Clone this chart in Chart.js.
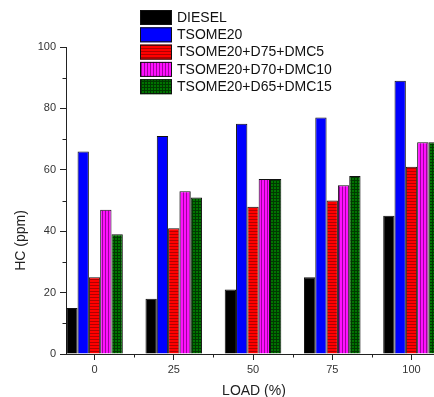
<!DOCTYPE html>
<html>
<head>
<meta charset="utf-8">
<script src="https://cdn.jsdelivr.net/npm/chart.js@4/dist/chart.umd.min.js"></script>
<style>
  html, body { margin: 0; padding: 0; background: #fff; overflow: hidden; }
  #wrap { width: 434px; height: 397px; position: relative; }
  canvas { display: block; }
</style>
</head>
<body>
<div id="wrap"><canvas id="c" width="434" height="397"></canvas></div>
<script>
// Engine load points and hydrocarbon emissions per fuel blend
const loads = [0, 25, 50, 75, 100];
const seriesNames = ['DIESEL', 'TSOME20', 'TSOME20+D75+DMC5', 'TSOME20+D70+DMC10', 'TSOME20+D65+DMC15'];
const diesel   = [15, 18, 21, 25, 45];
const tsome20  = [66, 71, 75, 77, 89];
const d75dmc5  = [25, 41, 48, 50, 61];
const d70dmc10 = [47, 53, 57, 55, 69];
const d65dmc15 = [39, 51, 57, 58, 69];
const yTicks = [0, 20, 40, 60, 80, 100];
const yMinorTicks = [10, 30, 50, 70, 90];
const xMinorTicks = [12.5, 37.5, 62.5, 87.5];
const xTitle = 'LOAD (%)';
const yTitle = 'HC (ppm)';

const FONT = 'Arial, "Liberation Sans", sans-serif';
const canvas = document.getElementById('c');
const ctx = canvas.getContext('2d');

// Small repeating tiles that give the hatched bar fills
function tile(w, h, base, ink, paint) {
  const t = document.createElement('canvas');
  t.width = w; t.height = h;
  const g = t.getContext('2d');
  g.fillStyle = base; g.fillRect(0, 0, w, h);
  g.fillStyle = ink; paint(g);
  return ctx.createPattern(t, 'repeat');
}
const redFill = tile(3, 3, '#ff0000', '#b00000', g => g.fillRect(0, 0, 3, 1));
const magentaFill = tile(3, 3, '#ff10ff', '#a000a0', g => g.fillRect(0, 0, 1, 3));
const greenFill = tile(3, 3, '#007400', '#003a00', g => { g.fillRect(0, 0, 3, 1); g.fillRect(0, 0, 1, 3); });

const seriesValues = [diesel, tsome20, d75dmc5, d70dmc10, d65dmc15];
const fills = ['#000000', '#0000ff', redFill, magentaFill, greenFill];

const datasets = seriesNames.map((name, i) => ({
  label: name,
  data: loads.map((x, j) => ({ x: x, y: seriesValues[i][j] })),
  backgroundColor: fills[i],
  borderColor: '#111',
  borderWidth: 1,
  categoryPercentage: 0.714,
  barPercentage: 1
}));

// Legend, axis titles and minor tick marks
const decorations = {
  id: 'decorations',
  afterDraw(chart) {
    const c = chart.ctx;
    const xs = chart.scales.x, ys = chart.scales.y;
    c.save();
    c.strokeStyle = '#222';
    c.lineWidth = 1;
    c.beginPath();
    yMinorTicks.forEach(v => {
      const py = Math.round(ys.getPixelForValue(v)) + 0.5;
      c.moveTo(xs.left - 3.5, py); c.lineTo(xs.left, py);
    });
    xMinorTicks.forEach(v => {
      const px = Math.round(xs.getPixelForValue(v)) + 0.5;
      c.moveTo(px, ys.bottom); c.lineTo(px, ys.bottom + 3.5);
    });
    c.stroke();

    // legend block
    const lx = 140, ly = 10, sw = 32, sh = 15, step = 17.3;
    c.font = '14px ' + FONT;
    c.textBaseline = 'middle';
    c.textAlign = 'left';
    chart.data.datasets.forEach((ds, i) => {
      const y = ly + i * step;
      c.fillStyle = ds.backgroundColor;
      c.fillRect(lx, y, sw, sh);
      c.strokeStyle = '#111';
      c.strokeRect(lx + 0.5, y + 0.5, sw - 1, sh - 1);
      c.fillStyle = '#111';
      c.fillText(ds.label, lx + sw + 5, y + sh / 2 + 0.5);
    });

    // axis titles
    c.fillStyle = '#222';
    c.font = '14px ' + FONT;
    c.textAlign = 'center';
    c.textBaseline = 'alphabetic';
    c.fillText(xTitle, (xs.left + xs.right) / 2 + 4, 395);
    c.translate(25, ys.top + (ys.bottom - ys.top) * 0.63);
    c.rotate(-Math.PI / 2);
    c.fillText(yTitle, 0, 0);
    c.restore();
  }
};

new Chart(ctx, {
  type: 'bar',
  data: { datasets: datasets },
  options: {
    responsive: false,
    animation: false,
    devicePixelRatio: 1,
    layout: { padding: { top: 47, left: 0, right: 0, bottom: 0 } },
    plugins: { legend: { display: false }, tooltip: { enabled: false } },
    scales: {
      x: {
        type: 'linear',
        offset: false,
        min: -9,
        max: 107.1,
        afterBuildTicks: s => { s.ticks = loads.map(v => ({ value: v })); },
        afterFit: s => { s.height = 43; },
        grid: { display: true, offset: false, drawOnChartArea: false, drawTicks: true, tickLength: 6, color: '#222' },
        border: { display: true, color: '#222', width: 1 },
        ticks: { font: { family: FONT, size: 11 }, color: '#333', padding: 3, maxRotation: 0, autoSkip: false }
      },
      y: {
        type: 'linear',
        min: 0,
        max: 100,
        afterBuildTicks: s => { s.ticks = yTicks.map(v => ({ value: v })); },
        afterFit: s => { s.width = 66; },
        grid: { display: true, drawOnChartArea: false, drawTicks: true, tickLength: 6, color: '#222' },
        border: { display: true, color: '#222', width: 1 },
        ticks: { font: { family: FONT, size: 11 }, color: '#333', padding: 4 }
      }
    }
  },
  plugins: [decorations]
});
</script>
</body>
</html>
